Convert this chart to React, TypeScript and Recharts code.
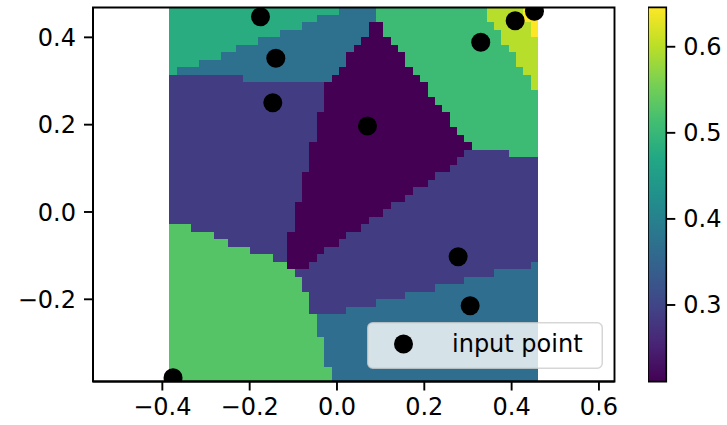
import React from 'react';
import { ComposedChart, Scatter, XAxis, YAxis, ReferenceArea } from 'recharts';

// input points (data coordinates) and their values
const pointX = [-0.3755, -0.1752, -0.1401, -0.147, 0.0698, 0.2775, 0.305, 0.3293, 0.4081, 0.4523];
const pointY = [-0.3797, 0.4472, 0.352, 0.2503, 0.1969, -0.1024, -0.2146, 0.3886, 0.4381, 0.4598];
const pointValue = [0.528, 0.48, 0.372, 0.289, 0.2109, 0.289, 0.367, 0.507, 0.598, 0.6458];

const xTicks = [-0.4, -0.2, 0, 0.2, 0.4, 0.6];
const yTicks = [-0.2, 0, 0.2, 0.4];
const colorbarTicks = [0.3, 0.4, 0.5, 0.6];
const GRID_N = 50;

const VIRIDIS = ['#440154', '#482475', '#414487', '#355f8d', '#2a788e', '#21918c', '#22a884', '#44bf70', '#7ad151', '#bddf26', '#fde725'];

const PLOT_W = 521.5;
const PLOT_H = 374;
const FONT = 'DejaVu Sans';

function hexToRgb(h: string) {
  return [parseInt(h.slice(1, 3), 16), parseInt(h.slice(3, 5), 16), parseInt(h.slice(5, 7), 16)];
}
function viridis(t: number) {
  const c = Math.max(0, Math.min(1, t)) * (VIRIDIS.length - 1);
  const i = Math.min(VIRIDIS.length - 2, Math.floor(c));
  const f = c - i;
  const a = hexToRgb(VIRIDIS[i]);
  const b = hexToRgb(VIRIDIS[i + 1]);
  const r = a.map((v, k) => Math.round(v + (b[k] - v) * f));
  return `rgb(${r[0]},${r[1]},${r[2]})`;
}
function linspace(a: number, b: number, n: number) {
  const out: number[] = [];
  for (let i = 0; i < n; i++) out.push(a + ((b - a) * i) / (n - 1));
  return out;
}

const vmin = Math.min(...pointValue);
const vmax = Math.max(...pointValue);
const xMin = Math.min(...pointX), xMax = Math.max(...pointX);
const yMin = Math.min(...pointY), yMax = Math.max(...pointY);
const gx = linspace(xMin, xMax, GRID_N);
const gy = linspace(yMin, yMax, GRID_N);
const dx = (xMax - xMin) / (GRID_N - 1);
const dy = (yMax - yMin) / (GRID_N - 1);

const yDomain = [yMin - dy / 2, yMax + dy / 2];
const ySpan = yDomain[1] - yDomain[0];
const xCenter = (xMin + xMax) / 2;
const xSpan = (ySpan * PLOT_W) / PLOT_H;
const xDomain = [xCenter - xSpan / 2, xCenter + xSpan / 2];

function nearest(x: number, y: number) {
  let best = 0, bd = Infinity;
  for (let k = 0; k < pointX.length; k++) {
    const d = (pointX[k] - x) ** 2 + (pointY[k] - y) ** 2;
    if (d < bd) { bd = d; best = k; }
  }
  return best;
}

type Run = { x1: number; x2: number; y1: number; y2: number; color: string };
const runs: Run[] = [];
for (let j = 0; j < GRID_N; j++) {
  let start = 0;
  let cur = nearest(gx[0], gy[j]);
  for (let i = 1; i <= GRID_N; i++) {
    const k = i < GRID_N ? nearest(gx[i], gy[j]) : -1;
    if (k !== cur) {
      runs.push({
        x1: gx[start] - dx / 2,
        x2: gx[i - 1] + dx / 2,
        y1: gy[j] - dy / 2,
        y2: gy[j] + dy / 2,
        color: viridis((pointValue[cur] - vmin) / (vmax - vmin)),
      });
      start = i;
      cur = k;
    }
  }
}

const points = pointX.map((x, i) => ({ x, y: pointY[i] }));

const fmt = (v: number) => {
  const s = Math.abs(v).toFixed(1);
  return v < -1e-9 ? '\u2212' + s : s;
};

const tickStyle = { fill: '#000', fontSize: 24, fontFamily: FONT };
const lineStyle = { stroke: '#000', strokeWidth: 1.9 };

const CellShape = (p: any) => (
  <rect x={p.x} y={p.y} width={p.width} height={p.height} fill={p.fill} shapeRendering="crispEdges" />
);

export default function App() {
  return (
    <div style={{ position: 'absolute', left: 0, top: 0, width: 727, height: 425, background: '#fff' }}>
      <div style={{ position: 'absolute', left: 0, top: 0 }}>
        <ComposedChart width={727} height={425} margin={{ top: 7.5, right: 112.5, bottom: 0, left: 0 }}>
          <XAxis
            type="number"
            dataKey="x"
            domain={xDomain}
            ticks={xTicks}
            interval={0}
            allowDataOverflow
            height={43.5}
            tickFormatter={fmt}
            tick={tickStyle}
            tickSize={9}
            tickMargin={7}
            axisLine={lineStyle}
            tickLine={lineStyle}
          />
          <YAxis
            type="number"
            dataKey="y"
            domain={yDomain}
            ticks={yTicks}
            interval={0}
            allowDataOverflow
            width={93}
            tickFormatter={fmt}
            tick={tickStyle}
            tickSize={9}
            tickMargin={8}
            axisLine={lineStyle}
            tickLine={lineStyle}
          />
          {runs.map((r, i) => (
            <ReferenceArea
              key={i}
              x1={r.x1}
              x2={r.x2}
              y1={r.y1}
              y2={r.y2}
              ifOverflow="hidden"
              fill={r.color}
              fillOpacity={1}
              stroke="none"
              shape={CellShape}
            />
          ))}
          <Scatter
            data={points}
            isAnimationActive={false}
            fill="#000"
            shape={(p: any) => <circle cx={p.cx} cy={p.cy} r={9.5} fill="#000" />}
          />
          <ReferenceArea
            x1={xDomain[0]}
            x2={xDomain[1]}
            y1={yDomain[0]}
            y2={yDomain[1]}
            ifOverflow="visible"
            fill="none"
            fillOpacity={0}
            stroke="#000"
            strokeWidth={1.9}
          />
        </ComposedChart>
      </div>
      <div style={{ position: 'absolute', left: 367, top: 322, width: 236, height: 47 }}>
        <svg width={236} height={47} style={{ display: 'block' }}>
          <rect x={0.75} y={0.75} width={234.5} height={45.5} rx={5} ry={5} fill="#fff" fillOpacity={0.8} stroke="#cccccc" strokeOpacity={0.8} strokeWidth={1.5} />
          <circle cx={36.5} cy={22} r={9.5} fill="#000" />
          <text x={85} y={30} fontFamily={FONT} fontSize={24} fill="#000">input point</text>
        </svg>
      </div>
      <div style={{ position: 'absolute', left: 648.3, top: 0 }}>
        <ComposedChart width={78.7} height={425} margin={{ top: 7.3, right: 0, bottom: 43.3, left: 0 }} data={[{ x: 0 }]}>
          <defs>
            <linearGradient id="viridisGrad" x1="0" y1="1" x2="0" y2="0">
              {VIRIDIS.map((c, i) => (
                <stop key={i} offset={`${(i / (VIRIDIS.length - 1)) * 100}%`} stopColor={c} />
              ))}
            </linearGradient>
          </defs>
          <XAxis type="number" dataKey="x" domain={[0, 1]} hide />
          <YAxis
            type="number"
            orientation="right"
            domain={[vmin, vmax]}
            ticks={colorbarTicks}
            interval={0}
            allowDataOverflow
            width={60.4}
            tickFormatter={(v: number) => v.toFixed(1)}
            tick={tickStyle}
            tickSize={9}
            tickMargin={8}
            axisLine={false}
            tickLine={lineStyle}
          />
          <ReferenceArea
            x1={0}
            x2={1}
            y1={vmin}
            y2={vmax}
            ifOverflow="visible"
            fill="url(#viridisGrad)"
            fillOpacity={1}
            stroke="#000"
            strokeWidth={1.6}
          />
        </ComposedChart>
      </div>
    </div>
  );
}
